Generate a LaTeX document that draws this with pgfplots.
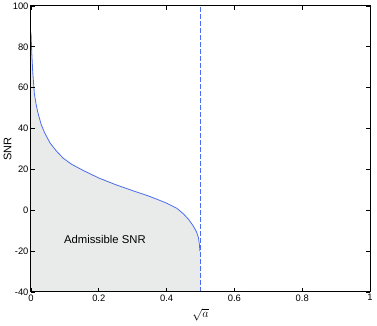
\documentclass[border=0pt]{standalone}
\usepackage{pgfplots}
\pgfplotsset{compat=1.18}
\usepackage{fontspec}
\setmainfont{Liberation Sans}
\definecolor{curveblue}{HTML}{4A6CF0}
\definecolor{fillgray}{HTML}{E9EBEB}
\begin{document}
\begin{tikzpicture}
\useasboundingbox (-31pt,-34pt) rectangle (346pt,292pt);
\begin{axis}[
  at={(0,0)}, anchor=south west,
  scale only axis, width=339pt, height=286pt,
  xmin=0, xmax=1, ymin=-40, ymax=100,
  xtick={0,0.2,0.4,0.6,0.8,1},
  ytick={-40,-20,0,20,40,60,80,100},
  tick align=inside, major tick length=4pt,
  tick style={black, line width=0.8pt},
  axis line style={black, line width=1pt},
  /pgf/number format/assume math mode=true,
  ticklabel style={font=\fontsize{9.4}{10}\selectfont},
  xticklabel style={yshift=1pt},
  yticklabel style={xshift=1pt},
  xlabel={$\sqrt{a}$},
  ylabel={SNR},
  xlabel style={at={(axis description cs:0.5,-0.0785)}, anchor=center, font=\fontsize{12}{13}\selectfont},
  ylabel style={at={(axis description cs:-0.0693,0.5)}, anchor=center, font=\fontsize{11}{12}\selectfont},
  axis on top,
]
\addplot[fill=fillgray, draw=none] coordinates {
(0,-40) (0,87) (0.002,78) (0.005,68) (0.01,57) (0.015,52) (0.02,48) (0.03,42) (0.04,38)
(0.056,33) (0.075,29) (0.095,25.5) (0.12,22.5) (0.154,19.5) (0.2,15.8) (0.25,12.5)
(0.3,9.6) (0.35,6.8) (0.4,3.5) (0.43,1.0) (0.45,-1.8) (0.465,-4.5) (0.478,-7.5)
(0.488,-10.5) (0.494,-13.5) (0.497,-17) (0.498,-20) (0.5,-20) (0.5,-40)} -- cycle;
\addplot[curveblue, line width=0.8pt] coordinates {
(0,87) (0.002,78) (0.005,68) (0.01,57) (0.015,52) (0.02,48) (0.03,42) (0.04,38)
(0.056,33) (0.075,29) (0.095,25.5) (0.12,22.5) (0.154,19.5) (0.2,15.8) (0.25,12.5)
(0.3,9.6) (0.35,6.8) (0.4,3.5) (0.43,1.0) (0.45,-1.8) (0.465,-4.5) (0.478,-7.5)
(0.488,-10.5) (0.494,-13.5) (0.497,-17) (0.498,-20)};
\addplot[curveblue, line width=0.8pt, dash pattern=on 4.5pt off 2.5pt] coordinates {(0.5,-40) (0.5,100)};
\node[font=\fontsize{11.3}{12}\selectfont] at (axis cs:0.218,-14.5) {Admissible SNR};
\end{axis}
\end{tikzpicture}
\end{document}
